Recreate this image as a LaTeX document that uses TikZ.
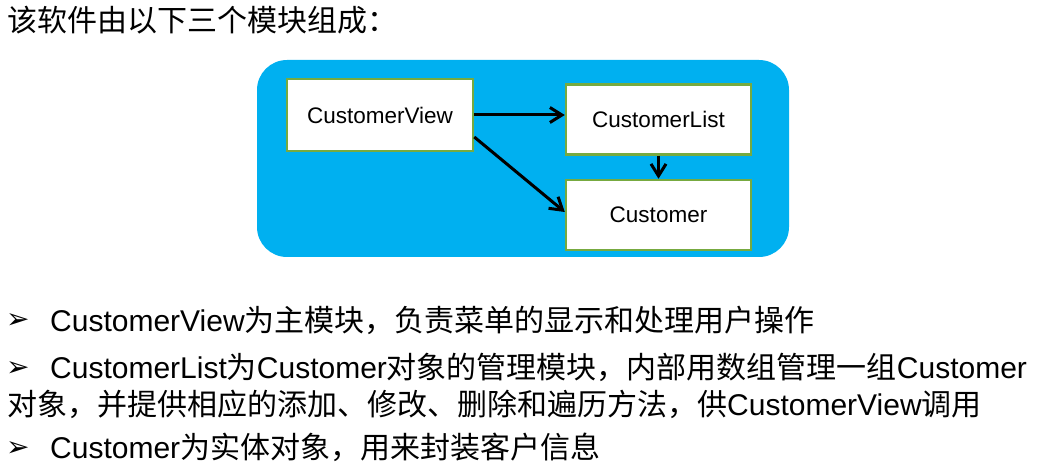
\documentclass[tikz,border=0pt]{standalone}
\usepackage{fontspec}
\setmainfont{Liberation Sans}
\newfontfamily\cjk{Noto Sans CJK SC}
\newfontfamily\setafont{DejaVu Sans}
\usetikzlibrary{positioning,arrows.meta}
\definecolor{azulclaro}{HTML}{00B0F0}
\definecolor{verdeborda}{RGB}{119,170,64}
\newcommand{\zh}[1]{{\cjk #1}}
\newcommand{\marca}{{\setafont\fontsize{28}{28}\selectfont ➢}}

\begin{document}
\begin{tikzpicture}
	[x=1pt, y=-1pt,
	azul/.style		={rectangle, rounded corners=30pt, fill=azulclaro, minimum width=532pt, minimum height=197pt},
	branco/.style	={rectangle, draw=verdeborda, fill=white, line width=2.5pt, minimum width=185pt, minimum height=70pt, font=\fontsize{22.5}{27}\selectfont},
	seta/.style		={line width=3pt, -{Straight Barb[length=12pt,width=15pt]}},
	texto/.style	={anchor=base west, inner sep=0pt, font=\fontsize{30}{36}\selectfont},]
	\useasboundingbox (0,0) rectangle (1045,465);
	\node[texto] 	(tit)	at (7,32)	{\zh{该软件由以下三个模块组成：}};
	% diagrama
	\node[azul]		(fundo)	at (523,158.5)	{};
	\node[branco, minimum width=186pt, minimum height=72pt]	(cv) at (380,115)	{CustomerView};
	\node[branco]	(cl)	at (658.5,119.5)	{CustomerList};
	\node[branco, below=23pt of cl]	(cu)	{Customer};
	\draw[seta] (cv.east) -- (cv.east -| cl.west);
	\draw[seta] ([yshift=-22pt]cv.east) -- ([yshift=3pt]cu.west);
	\draw[seta] (cl.south) -- (cu.north);
	% itens
	\node[texto]	(m1)	at (6,329)	{\marca};
	\node[texto]	(l1)	at (50,331)	{CustomerView\zh{为主模块，负责菜单的显示和处理用户操作}};
	\node[texto]	(m2)	at (6,376)	{\marca};
	\node[texto]	(l2)	at (50,378)	{CustomerList\zh{为}Customer\zh{对象的管理模块，内部用数组管理一组}Customer};
	\node[texto]	(l3)	at (7,415)	{\zh{对象，并提供相应的添加、修改、删除和遍历方法，供}CustomerView\zh{调用}};
	\node[texto]	(m3)	at (6,456)	{\marca};
	\node[texto]	(l4)	at (50,458)	{Customer\zh{为实体对象，用来封装客户信息}};
\end{tikzpicture}
\end{document}
